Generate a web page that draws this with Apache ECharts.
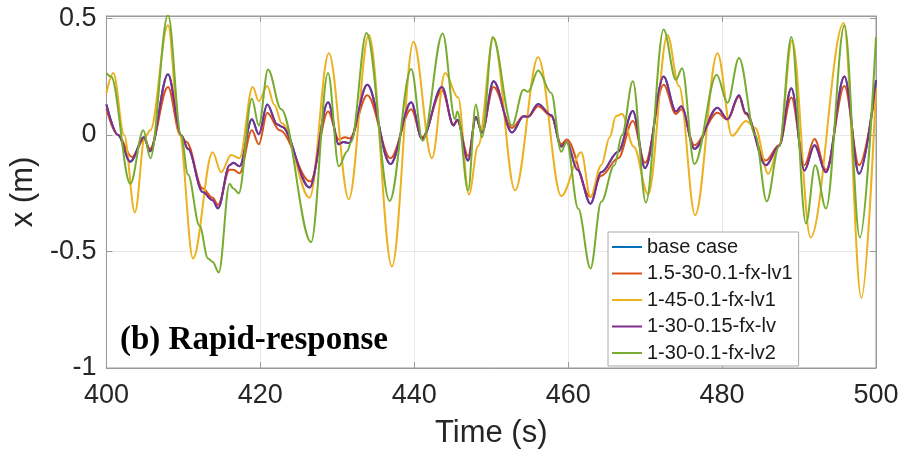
<!DOCTYPE html>
<html>
<head>
<meta charset="utf-8">
<script src="https://cdn.jsdelivr.net/npm/echarts@6/dist/echarts.min.js"></script>
<style>
html,body{margin:0;padding:0;background:#fff;}
#chart{width:904px;height:457px;}
</style>
</head>
<body>
<div id="chart"></div>
<script>
// Legend names / series
const seriesNames = ['base case', '1.5-30-0.1-fx-lv1', '1-45-0.1-fx-lv1', '1-30-0.15-fx-lv', '1-30-0.1-fx-lv2'];
const seriesColors = ['#0072BD', '#D95319', '#EDB120', '#7E2F8E', '#77AC30'];
const xTicks = [400, 420, 440, 460, 480, 500];
const yTicks = [-1, -0.5, 0, 0.5];

// [time (s), x (m)]
const purple = [[400,0.13],[401.5,0.0],[403.1,-0.115],[404.9,-0.01],[405.65,-0.07],[408.0,0.26],[409.7,0.0],[410.6,-0.06],[412.5,-0.245],[413.8,-0.28],[414.5,-0.315],[416.0,-0.13],[416.5,-0.12],[417.3,-0.135],[418.9,0.067],[419.8,0.003],[420.9,0.13],[422.2,0.045],[422.8,0.035],[426.4,-0.226],[428.8,0.14],[430.2,-0.04],[430.8,-0.03],[431.5,-0.035],[433.9,0.215],[436.9,-0.125],[439.6,0.14],[441.0,-0.018],[443.6,0.205],[445.1,0.04],[445.6,0.065],[447.0,-0.11],[448.0,0.077],[448.8,0.01],[450.3,0.23],[452.7,0.01],[454.2,0.08],[454.8,0.078],[456.1,0.133],[457.8,0.084],[459.1,-0.05],[459.8,-0.03],[461.2,-0.15],[462.9,-0.295],[464.3,-0.16],[466.5,-0.072],[468.4,0.102],[470.0,-0.143],[472.4,0.25],[474.0,0.1],[474.7,0.123],[476.4,-0.06],[479.4,0.116],[480.7,0.067],[482.2,0.17],[483.05,0.095],[485.7,-0.13],[487.4,-0.047],[489.0,0.2],[490.7,-0.153],[492.0,-0.044],[493.5,-0.16],[495.9,0.25],[497.8,-0.167],[500,0.235]];
const baseCase = purple;
const red = [[400,0.11],[401.5,0.0],[403.3,-0.095],[404.9,-0.02],[405.65,-0.06],[408.0,0.205],[409.6,0.0],[410.4,-0.03],[412.5,-0.23],[413.8,-0.27],[414.5,-0.3],[416.0,-0.15],[416.5,-0.15],[417.3,-0.165],[418.9,0.02],[419.8,-0.04],[420.9,0.094],[422.5,0.02],[426.5,-0.2],[428.8,0.1],[430.2,-0.02],[431.0,-0.01],[431.6,-0.015],[433.9,0.17],[436.9,-0.1],[439.6,0.11],[441.0,-0.01],[443.6,0.19],[445.1,0.045],[445.6,0.06],[447.0,-0.09],[448.0,0.075],[448.8,0.015],[450.3,0.205],[452.7,0.03],[454.2,0.08],[454.8,0.078],[456.1,0.123],[457.8,0.08],[459.1,-0.04],[459.8,-0.02],[462.9,-0.266],[464.3,-0.175],[466.5,-0.1],[468.4,0.06],[470.0,-0.12],[472.4,0.215],[474.0,0.09],[474.7,0.11],[476.4,-0.044],[479.4,0.095],[480.7,0.065],[482.2,0.165],[483.05,0.09],[485.7,-0.11],[487.4,-0.044],[489.0,0.16],[490.7,-0.13],[492.0,-0.018],[493.5,-0.15],[495.9,0.21],[497.8,-0.13],[500,0.2]];
const yellow = [[400,0.18],[400.9,0.265],[402.3,0.0],[403.7,-0.333],[405.0,-0.01],[405.7,0.02],[408.0,0.47],[409.5,0.0],[411.25,-0.53],[413.8,-0.075],[414.9,-0.16],[416.2,-0.086],[417.3,-0.1],[419.0,0.205],[419.8,0.145],[420.9,0.21],[421.8,0.13],[422.8,0.05],[426.4,-0.27],[428.9,0.35],[431.5,-0.276],[434.1,0.43],[437.1,-0.565],[439.9,0.4],[442.3,-0.1],[444.0,0.265],[445.7,0.16],[447.1,-0.256],[448.3,-0.047],[450.3,0.415],[453.1,-0.238],[456.1,0.333],[459.1,-0.262],[461.7,-0.075],[462.9,-0.266],[464.3,-0.13],[465.4,-0.01],[466.2,0.08],[467.0,0.09],[468.5,-0.05],[470.4,-0.255],[472.9,0.428],[474.4,0.21],[476.5,-0.344],[479.4,0.35],[481.3,-0.004],[483.1,0.06],[484.3,0.03],[486.0,-0.167],[487.4,-0.05],[489.1,0.406],[491.5,-0.44],[495.8,0.48],[498.1,-0.7],[500,0.2]];
const green = [[400,0.265],[400.6,0.25],[403.1,-0.21],[404.8,0.02],[405.7,-0.1],[408.0,0.515],[409.7,0.0],[410.6,-0.17],[412.1,-0.39],[413.2,-0.53],[413.8,-0.545],[414.6,-0.59],[416.0,-0.21],[416.5,-0.23],[417.2,-0.25],[418.9,0.155],[419.8,0.04],[421.0,0.28],[422.7,0.11],[426.6,-0.46],[428.8,0.265],[430.2,-0.135],[431.3,-0.07],[431.8,-0.03],[433.8,0.437],[436.8,-0.283],[439.6,0.283],[441.1,-0.025],[443.7,0.435],[445.3,0.067],[445.6,0.1],[447.0,-0.238],[448.0,0.13],[448.8,-0.01],[450.2,0.42],[452.7,0.04],[454.2,0.194],[454.8,0.185],[456.1,0.276],[457.8,0.18],[459.1,-0.072],[459.8,-0.03],[461.3,-0.316],[462.9,-0.573],[464.3,-0.287],[466.0,-0.13],[467.0,0.0],[468.4,0.23],[470.1,-0.29],[472.4,0.452],[474.0,0.236],[474.8,0.286],[476.4,-0.125],[479.3,0.258],[480.7,0.138],[482.2,0.33],[484.3,0.0],[485.8,-0.285],[487.4,-0.05],[489.0,0.42],[490.9,-0.38],[492.1,-0.13],[493.5,-0.316],[495.9,0.47],[497.9,-0.44],[500,0.42]];

const seriesData = [baseCase, red, yellow, purple, green];

const chart = echarts.init(document.getElementById('chart'), null, {renderer: 'canvas'});
const axisGray = '#9a9a9a';
const gridGray = '#e8e8e8';
const textColor = '#262626';
const font = '"Liberation Sans", Arial, sans-serif';

function isTick(list, v) { return list.some(t => Math.abs(t - v) < 1e-9); }

const option = {
  animation: false,
  backgroundColor: '#ffffff',
  grid: {left: 103, right: 28, top: 16, bottom: 89, show: true, borderColor: axisGray, borderWidth: 1, backgroundColor: 'transparent'},
  xAxis: [{
    type: 'value', min: 400, max: 500, interval: 20,
    name: 'Time (s)', nameLocation: 'middle', nameGap: 50,
    nameTextStyle: {fontSize: 31, color: textColor, fontFamily: font},
    axisLine: {show: true, onZero: false, lineStyle: {color: axisGray, width: 1}},
    axisTick: {show: true, inside: true, length: 6, lineStyle: {color: axisGray}},
    axisLabel: {fontSize: 27, color: textColor, fontFamily: font, margin: 14,
      formatter: v => isTick(xTicks, v) ? String(v) : ''},
    splitLine: {show: true, lineStyle: {color: gridGray, width: 1}}
  }, {
    type: 'value', min: 400, max: 500, interval: 20, position: 'top',
    axisLine: {show: true, onZero: false, lineStyle: {color: axisGray}},
    axisTick: {show: true, inside: true, length: 6, lineStyle: {color: axisGray}},
    axisLabel: {show: false}, splitLine: {show: false}
  }],
  yAxis: [{
    type: 'value', min: -1, max: 0.51, interval: 0.5,
    name: 'x (m)', nameLocation: 'middle', nameGap: 62, nameRotate: 90,
    nameTextStyle: {fontSize: 31, color: textColor, fontFamily: font},
    axisLine: {show: true, onZero: false, lineStyle: {color: axisGray, width: 1}},
    axisTick: {show: true, inside: true, length: 6, lineStyle: {color: axisGray}},
    axisLabel: {fontSize: 27, color: textColor, fontFamily: font, margin: 10,
      showMaxLabel: true,
      formatter: v => isTick(yTicks, v) ? String(v) : ''},
    splitLine: {show: true, lineStyle: {color: gridGray, width: 1}}
  }, {
    type: 'value', min: -1, max: 0.51, interval: 0.5, position: 'right',
    axisLine: {show: true, onZero: false, lineStyle: {color: axisGray}},
    axisTick: {show: true, inside: true, length: 6, lineStyle: {color: axisGray}},
    axisLabel: {show: false}, splitLine: {show: false}
  }],
  legend: {
    orient: 'vertical', left: 608, top: 232,
    data: seriesNames,
    icon: 'rect',
    backgroundColor: '#ffffff', borderColor: '#a8a8a8', borderWidth: 1, borderRadius: 0,
    padding: [5, 6, 3, 4], itemGap: 6.5, itemWidth: 30, itemHeight: 2,
    textStyle: {fontSize: 20, lineHeight: 20, color: '#1a1a1a', fontFamily: font},
    selectedMode: false
  },
  graphic: [{
    type: 'text', left: 120, top: 324, z: 100,
    style: {text: '(b) Rapid-response', fill: '#000', font: 'bold 33px "Liberation Serif", "Times New Roman", serif'}
  }],
  series: seriesNames.map((name, i) => ({
    name: name, type: 'line', data: seriesData[i],
    xAxisIndex: 0, yAxisIndex: 0,
    symbol: 'none', showSymbol: false,
    smooth: 0.35, smoothMonotone: 'x',
    lineStyle: {color: seriesColors[i], width: 2},
    itemStyle: {color: seriesColors[i]},
    z: 2 + i
  }))
};
chart.setOption(option);
</script>
</body>
</html>
